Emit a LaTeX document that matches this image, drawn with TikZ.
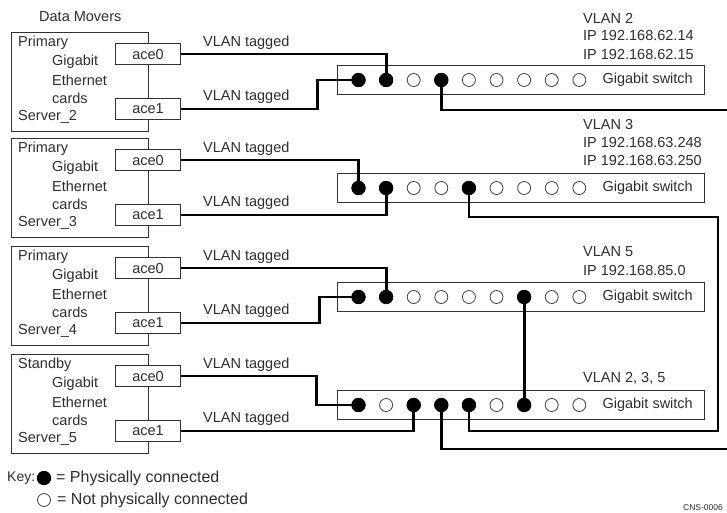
\documentclass[tikz,border=0pt]{standalone}
\usepackage{fontspec}
\setmainfont{Liberation Sans}
\begin{document}
\begin{tikzpicture}[x=1pt,y=-1pt,
  txt/.style={font=\fontsize{14.5}{16}\selectfont, inner sep=0pt, text=black!82, anchor=west},
  keytxt/.style={txt, font=\fontsize{16}{18}\selectfont},
  srvbox/.style={draw=black!80, line width=1.1pt, minimum width=137pt, minimum height=99pt, inner sep=0pt, anchor=north west},
  acebox/.style={draw=black!80, fill=white, line width=1.1pt, minimum width=65pt, minimum height=21pt, inner sep=0pt, anchor=north west, font=\fontsize{14.5}{16}\selectfont, text=black!82},
  swbox/.style={draw=black!80, line width=1.1pt, minimum width=367pt, minimum height=29pt, inner sep=0pt, anchor=west},
  wire/.style={line width=2.8pt, draw=black},
  port/.style={circle, draw=black!75, line width=0.8pt, minimum size=13pt, inner sep=0pt, fill=white},
  onport/.style={circle, draw=black, fill=black, line width=0.8pt, minimum size=13.5pt, inner sep=0pt}
]
\useasboundingbox (0,0) rectangle (727,512);

\node[txt] (dm) at (39,17) {Data Movers};

% servers
\foreach \n/\T/\role in {2/32/Primary, 3/138/Primary, 4/246/Primary, 5/354/Standby}{
  \node[srvbox] (s\n) at (11,\T) {};
  \node[acebox] (s\n a0) at (115,\T+11) {ace0};
  \node[acebox] (s\n a1) at (115,\T+66) {ace1};
  \node[txt] (s\n r) at (18,\T+11) {\role};
  \node[txt] (s\n g) at (52,\T+30) {Gigabit};
  \node[txt] (s\n e) at (52,\T+48) {Ethernet};
  \node[txt] (s\n c) at (52,\T+66) {cards};
  \node[txt] (s\n n) at (18,\T+85) {Server\_\n};
  \node[txt] (s\n l0) at (203,\T+11) {VLAN tagged};
  \node[txt] (s\n l1) at (203,\T+65) {VLAN tagged};
}

% switches
\foreach \k/\Y in {1/80, 2/188, 3/297, 4/405}{
  \node[swbox] (w\k) at (337,\Y) {};
  \node[txt, anchor=east] (w\k t) at (693,\Y) {Gigabit switch};
  \foreach \i in {1,...,9}{
    \coordinate (p\k-\i) at ({358.5+27.6*(\i-1)},\Y);
  }
}

% VLAN labels
\node[txt] (v1a) at (583,18) {VLAN 2};
\node[txt] (v1b) at (583,36) {IP 192.168.62.14};
\node[txt] (v1c) at (583,55) {IP 192.168.62.15};
\node[txt] (v2a) at (583,125) {VLAN 3};
\node[txt] (v2b) at (583,143) {IP 192.168.63.248};
\node[txt] (v2c) at (583,161) {IP 192.168.63.250};
\node[txt] (v3a) at (583,252) {VLAN 5};
\node[txt] (v3b) at (583,271) {IP 192.168.85.0};
\node[txt] (v4a) at (583,378) {VLAN 2, 3, 5};

% edge coordinates
\coordinate (e1) at (728,110);
\coordinate (e2) at (728,449);
\coordinate (r1) at (718,431);

% wires
\draw[wire] (s2a0.east) -| (p1-2);
\draw[wire] (s2a1.east) -- ++(136,0) |- (p1-1);
\draw[wire] (p1-4) |- (e1);

\draw[wire] (s3a0.east) -| (p2-1);
\draw[wire] (s3a1.east) -| (p2-2);
\draw[wire] (p2-5) -- ++(0,29) -| (r1) -| (p4-5);

\draw[wire] (s4a0.east) -| (p3-2);
\draw[wire] (s4a1.east) -- ++(138,0) |- (p3-1);
\draw[wire] (p3-7) -- (p4-7);

\draw[wire] (s5a0.east) -- ++(135,0) |- (p4-1);
\draw[wire] (s5a1.east) -| (p4-3);
\draw[wire] (p4-4) |- (e2);

% ports
\foreach \k in {1,...,4}{
  \foreach \i in {1,...,9}{
    \node[port] (c\k-\i) at (p\k-\i) {};
  }
}
\foreach \k/\i in {1/1,1/2,1/4, 2/1,2/2,2/5, 3/1,3/2,3/7, 4/1,4/3,4/4,4/5,4/7}{
  \node[onport] (f\k-\i) at (p\k-\i) {};
}

% key
\node[txt, font=\fontsize{14}{16}\selectfont] (key) at (7,478) {Key:};
\node[onport] (k1) at (44,478) {};
\node[keytxt] (k1t) at (56,478) {= Physically connected};
\node[port] (k2) at (44,500) {};
\node[keytxt] (k2t) at (57,500) {= Not physically connected};

\node[txt, font=\fontsize{8.5}{10}\selectfont] (cns) at (683,508) {CNS-0006};
\end{tikzpicture}
\end{document}
